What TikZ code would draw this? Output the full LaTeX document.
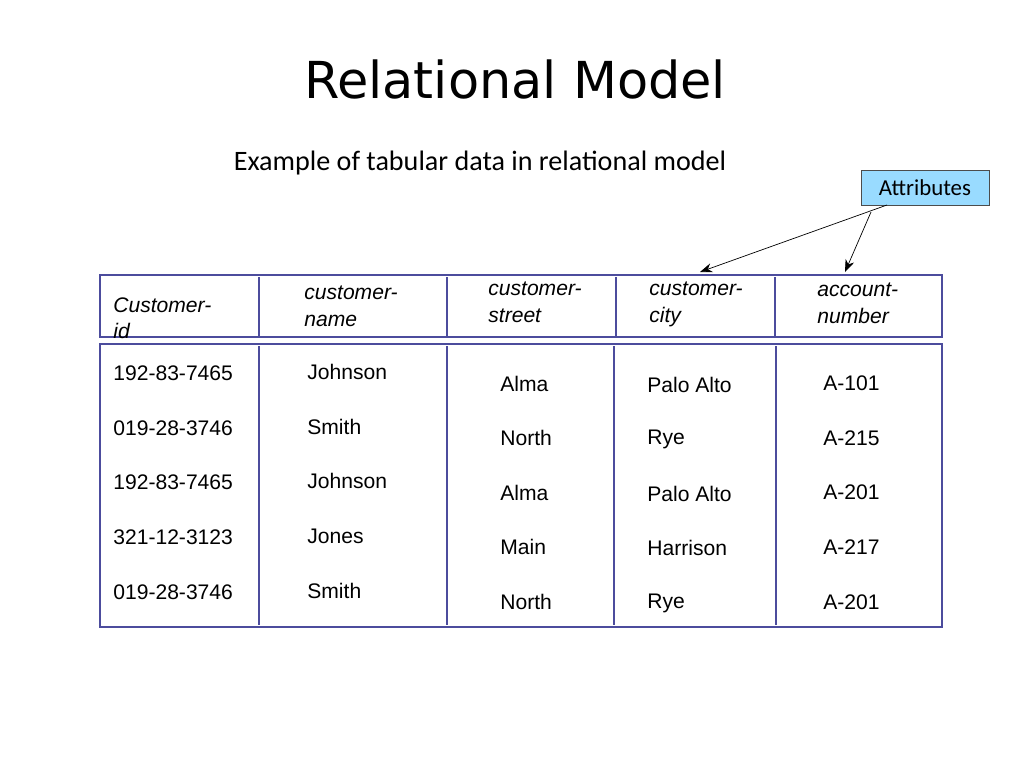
\documentclass[tikz,border=0pt]{standalone}
\usepackage{fontspec}
\setmainfont{Liberation Sans}
\newfontfamily\titlefont{DejaVu Sans}
\newfontfamily\subfont{Carlito}
\usetikzlibrary{arrows.meta}
\tikzset{
  cell/.style={anchor=west, inner sep=0pt, font=\fontsize{12}{14}\selectfont},
  head/.style={anchor=north west, inner sep=0pt, align=left, font=\fontsize{12}{15}\selectfont\itshape},
  frame/.style={draw=blue!45!black!70, line width=0.6pt}
}
\begin{document}
\begin{tikzpicture}[x=0.02cm,y=-0.02cm]
        \useasboundingbox (0,0) rectangle (1024,768);
        \node[font=\titlefont\fontsize{29}{32}\selectfont] (title) at (515,80) {Relational Model};
        \node[font=\subfont\fontsize{16}{18}\selectfont] (sub) at (480,163) {Example of tabular data in relational model};
        \node[draw=black!70, fill=blue!35!cyan!40, minimum width=2.56cm, minimum height=0.7cm, inner sep=0pt, font=\subfont\fontsize{13}{15}\selectfont] (attr) at (925,188) {Attributes};
        % table frames
        \draw[frame] (100,275) rectangle (942,337);
        \draw[frame] (100,344) rectangle (942,627);
        \draw[frame] (259,277) -- (259,337) (447,277) -- (447,337) (616,277) -- (616,337) (775,277) -- (775,337);
        \draw[frame] (259,346) -- (259,625) (447,346) -- (447,625) (614,346) -- (614,625) (776,346) -- (776,625);
        % headers
        \node[head] (h1) at (113,297) {Customer-\\id};
        \node[head] (h2) at (304,286) {customer-\\name};
        \node[head] (h3) at (488,282) {customer-\\street};
        \node[head] (h4) at (649,282) {customer-\\city};
        \node[head] (h5) at (817,283) {account-\\number};
        % arrows
        \coordinate (tc) at (700,272);
        \coordinate (tn) at (845,272);
        \draw[-{Stealth[length=7pt]}] (attr.south) ++(-38pt,0) coordinate (a1) (887,205) -- (tc);
        \draw[-{Stealth[length=7pt]}] (871,212) -- (tn);
        % rows
        \node[cell] (c11) at (113,373) {192-83-7465};
        \node[cell] (c21) at (113,428) {019-28-3746};
        \node[cell] (c31) at (113,482) {192-83-7465};
        \node[cell] (c41) at (113,537) {321-12-3123};
        \node[cell] (c51) at (113,592) {019-28-3746};
        \node[cell] (c12) at (307,372) {Johnson};
        \node[cell] (c22) at (307,427) {Smith};
        \node[cell] (c32) at (307,481) {Johnson};
        \node[cell] (c42) at (307,536) {Jones};
        \node[cell] (c52) at (307,591) {Smith};
        \node[cell] (c13) at (500,384) {Alma};
        \node[cell] (c23) at (500,438) {North};
        \node[cell] (c33) at (500,493) {Alma};
        \node[cell] (c43) at (500,547) {Main};
        \node[cell] (c53) at (500,602) {North};
        \node[cell] (c14) at (647,385) {Palo Alto};
        \node[cell] (c24) at (647,439) {Rye};
        \node[cell] (c34) at (647,494) {Palo Alto};
        \node[cell] (c44) at (647,548) {Harrison};
        \node[cell] (c54) at (647,603) {Rye};
        \node[cell] (c15) at (823,383) {A-101};
        \node[cell] (c25) at (823,438) {A-215};
        \node[cell] (c35) at (823,492) {A-201};
        \node[cell] (c45) at (823,547) {A-217};
        \node[cell] (c55) at (823,602) {A-201};
\end{tikzpicture}
\end{document}
